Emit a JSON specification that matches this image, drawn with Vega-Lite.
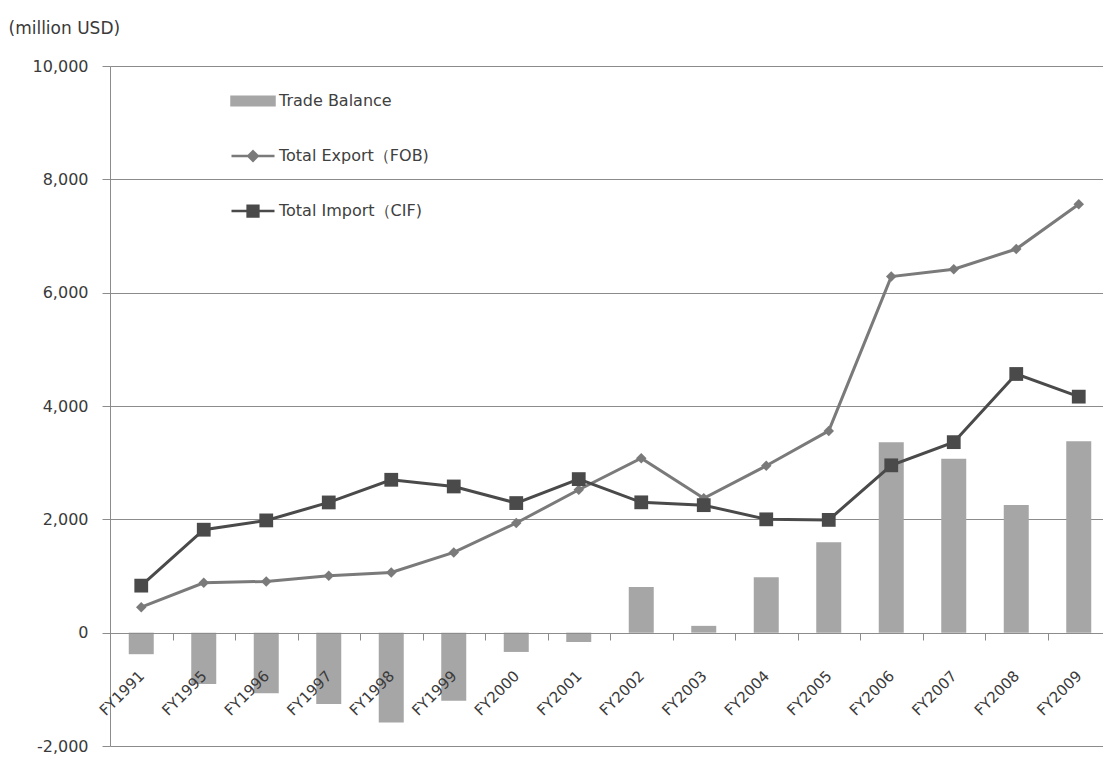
{
  "$schema": "https://vega.github.io/schema/vega-lite/v6.json",
  "autosize": {"type": "none"},
  "width": 993,
  "height": 680,
  "padding": {"left": 110, "top": 66, "right": 0, "bottom": 12},
  "background": "white",
  "config": {
    "font": "DejaVu Sans",
    "locale": {"number": {"decimal": ".", "thousands": ",", "grouping": [3], "currency": ["$", ""], "minus": "-"}},
    "view": {"stroke": null},
    "axis": {"labelFont": "DejaVu Sans", "titleFont": "DejaVu Sans", "labelColor": "#3a3a3a", "titleColor": "#3a3a3a"}
  },
  "data": {
    "values": [
      {"year": "FY1991", "series": "Trade Balance", "value": -380},
      {"year": "FY1995", "series": "Trade Balance", "value": -907},
      {"year": "FY1996", "series": "Trade Balance", "value": -1070},
      {"year": "FY1997", "series": "Trade Balance", "value": -1260},
      {"year": "FY1998", "series": "Trade Balance", "value": -1585},
      {"year": "FY1999", "series": "Trade Balance", "value": -1200},
      {"year": "FY2000", "series": "Trade Balance", "value": -340},
      {"year": "FY2001", "series": "Trade Balance", "value": -165},
      {"year": "FY2002", "series": "Trade Balance", "value": 805},
      {"year": "FY2003", "series": "Trade Balance", "value": 120},
      {"year": "FY2004", "series": "Trade Balance", "value": 977},
      {"year": "FY2005", "series": "Trade Balance", "value": 1595},
      {"year": "FY2006", "series": "Trade Balance", "value": 3360},
      {"year": "FY2007", "series": "Trade Balance", "value": 3068},
      {"year": "FY2008", "series": "Trade Balance", "value": 2251},
      {"year": "FY2009", "series": "Trade Balance", "value": 3380},
      {"year": "FY1991", "series": "Total Export（FOB)", "value": 450},
      {"year": "FY1995", "series": "Total Export（FOB)", "value": 880},
      {"year": "FY1996", "series": "Total Export（FOB)", "value": 905},
      {"year": "FY1997", "series": "Total Export（FOB)", "value": 1005},
      {"year": "FY1998", "series": "Total Export（FOB)", "value": 1063},
      {"year": "FY1999", "series": "Total Export（FOB)", "value": 1416},
      {"year": "FY2000", "series": "Total Export（FOB)", "value": 1935},
      {"year": "FY2001", "series": "Total Export（FOB)", "value": 2522},
      {"year": "FY2002", "series": "Total Export（FOB)", "value": 3080},
      {"year": "FY2003", "series": "Total Export（FOB)", "value": 2370},
      {"year": "FY2004", "series": "Total Export（FOB)", "value": 2945},
      {"year": "FY2005", "series": "Total Export（FOB)", "value": 3560},
      {"year": "FY2006", "series": "Total Export（FOB)", "value": 6284},
      {"year": "FY2007", "series": "Total Export（FOB)", "value": 6414},
      {"year": "FY2008", "series": "Total Export（FOB)", "value": 6770},
      {"year": "FY2009", "series": "Total Export（FOB)", "value": 7560},
      {"year": "FY1991", "series": "Total Import（CIF)", "value": 830},
      {"year": "FY1995", "series": "Total Import（CIF)", "value": 1817},
      {"year": "FY1996", "series": "Total Import（CIF)", "value": 1981},
      {"year": "FY1997", "series": "Total Import（CIF)", "value": 2298},
      {"year": "FY1998", "series": "Total Import（CIF)", "value": 2698},
      {"year": "FY1999", "series": "Total Import（CIF)", "value": 2580},
      {"year": "FY2000", "series": "Total Import（CIF)", "value": 2287},
      {"year": "FY2001", "series": "Total Import（CIF)", "value": 2710},
      {"year": "FY2002", "series": "Total Import（CIF)", "value": 2300},
      {"year": "FY2003", "series": "Total Import（CIF)", "value": 2250},
      {"year": "FY2004", "series": "Total Import（CIF)", "value": 2000},
      {"year": "FY2005", "series": "Total Import（CIF)", "value": 1990},
      {"year": "FY2006", "series": "Total Import（CIF)", "value": 2953},
      {"year": "FY2007", "series": "Total Import（CIF)", "value": 3362},
      {"year": "FY2008", "series": "Total Import（CIF)", "value": 4565},
      {"year": "FY2009", "series": "Total Import（CIF)", "value": 4165}
    ]
  },
  "encoding": {
    "x": {
      "field": "year",
      "type": "nominal",
      "sort": null,
      "scale": {"range": [0, 1000], "paddingInner": 0, "paddingOuter": 0},
      "axis": {
        "title": null,
        "offset": -113,
        "zindex": 1,
        "domainColor": "#8c8c8c",
        "tickColor": "#8c8c8c",
        "tickBand": "extent",
        "tickSize": 7,
        "labelAngle": -45,
        "labelAlign": "right",
        "labelBaseline": "middle",
        "labelPadding": 33,
        "labelFontSize": 15,
        "grid": false
      }
    },
    "y": {
      "field": "value",
      "type": "quantitative",
      "scale": {"domain": [-2000, 10000], "nice": false, "zero": false},
      "axis": {
        "values": [-2000, 0, 2000, 4000, 6000, 8000, 10000],
        "format": ",d",
        "grid": true,
        "gridColor": "#8c8c8c",
        "gridWidth": 1,
        "domainColor": "#8c8c8c",
        "tickColor": "#8c8c8c",
        "tickSize": 8,
        "labelPadding": 14,
        "labelFontSize": 16,
        "title": "(million USD)",
        "titleAngle": 0,
        "titleAlign": "left",
        "titleBaseline": "middle",
        "titleX": -102,
        "titleY": -38,
        "titleFontSize": 17,
        "titleFontWeight": "normal"
      }
    },
    "color": {
      "field": "series",
      "type": "nominal",
      "scale": {
        "domain": ["Trade Balance", "Total Export（FOB)", "Total Import（CIF)"],
        "range": ["#a6a6a6", "#7a7a7a", "#4a4a4a"]
      },
      "legend": {
        "orient": "none",
        "legendX": 120,
        "legendY": 12,
        "title": null,
        "labelFontSize": 16,
        "labelFont": "DejaVu Sans",
        "labelColor": "#404040",
        "labelOffset": 3,
        "symbolSize": 1849,
        "rowPadding": 22,
        "encode": {
          "symbols": {
            "update": {
              "shape": [
                {"test": "datum.value === 'Trade Balance'", "value": "M-1,-0.2H1V0.2H-1Z"},
                {"test": "datum.value === 'Total Export（FOB)'", "value": "M-1,0H1M0,-0.22L0.22,0L0,0.22L-0.22,0Z"},
                {"value": "M-1,0H1M-0.25,-0.25H0.25V0.25H-0.25Z"}
              ],
              "fill": [
                {"test": "datum.value === 'Trade Balance'", "value": "#a6a6a6"},
                {"test": "datum.value === 'Total Export（FOB)'", "value": "#7a7a7a"},
                {"value": "#4a4a4a"}
              ],
              "stroke": [
                {"test": "datum.value === 'Trade Balance'", "value": "#a6a6a6"},
                {"test": "datum.value === 'Total Export（FOB)'", "value": "#7a7a7a"},
                {"value": "#4a4a4a"}
              ],
              "strokeWidth": {"value": 2.5},
              "opacity": {"value": 1},
              "fillOpacity": {"value": 1}
            }
          }
        }
      }
    }
  },
  "layer": [
    {
      "transform": [{"filter": "datum.series === 'Trade Balance'"}],
      "mark": {"type": "bar", "width": {"band": 0.4}},
      "encoding": {}
    },
    {
      "transform": [{"filter": "datum.series !== 'Trade Balance'"}],
      "mark": {"type": "line", "strokeWidth": 3},
      "encoding": {}
    },
    {
      "transform": [{"filter": "datum.series !== 'Trade Balance'"}],
      "mark": {"type": "point", "filled": true, "opacity": 1},
      "encoding": {
        "shape": {
          "field": "series",
          "type": "nominal",
          "scale": {"domain": ["Total Export（FOB)", "Total Import（CIF)"], "range": ["diamond", "square"]},
          "legend": null
        },
        "size": {
          "field": "series",
          "type": "nominal",
          "scale": {"domain": ["Total Export（FOB)", "Total Import（CIF)"], "range": [110, 190]},
          "legend": null
        }
      }
    }
  ]
}
